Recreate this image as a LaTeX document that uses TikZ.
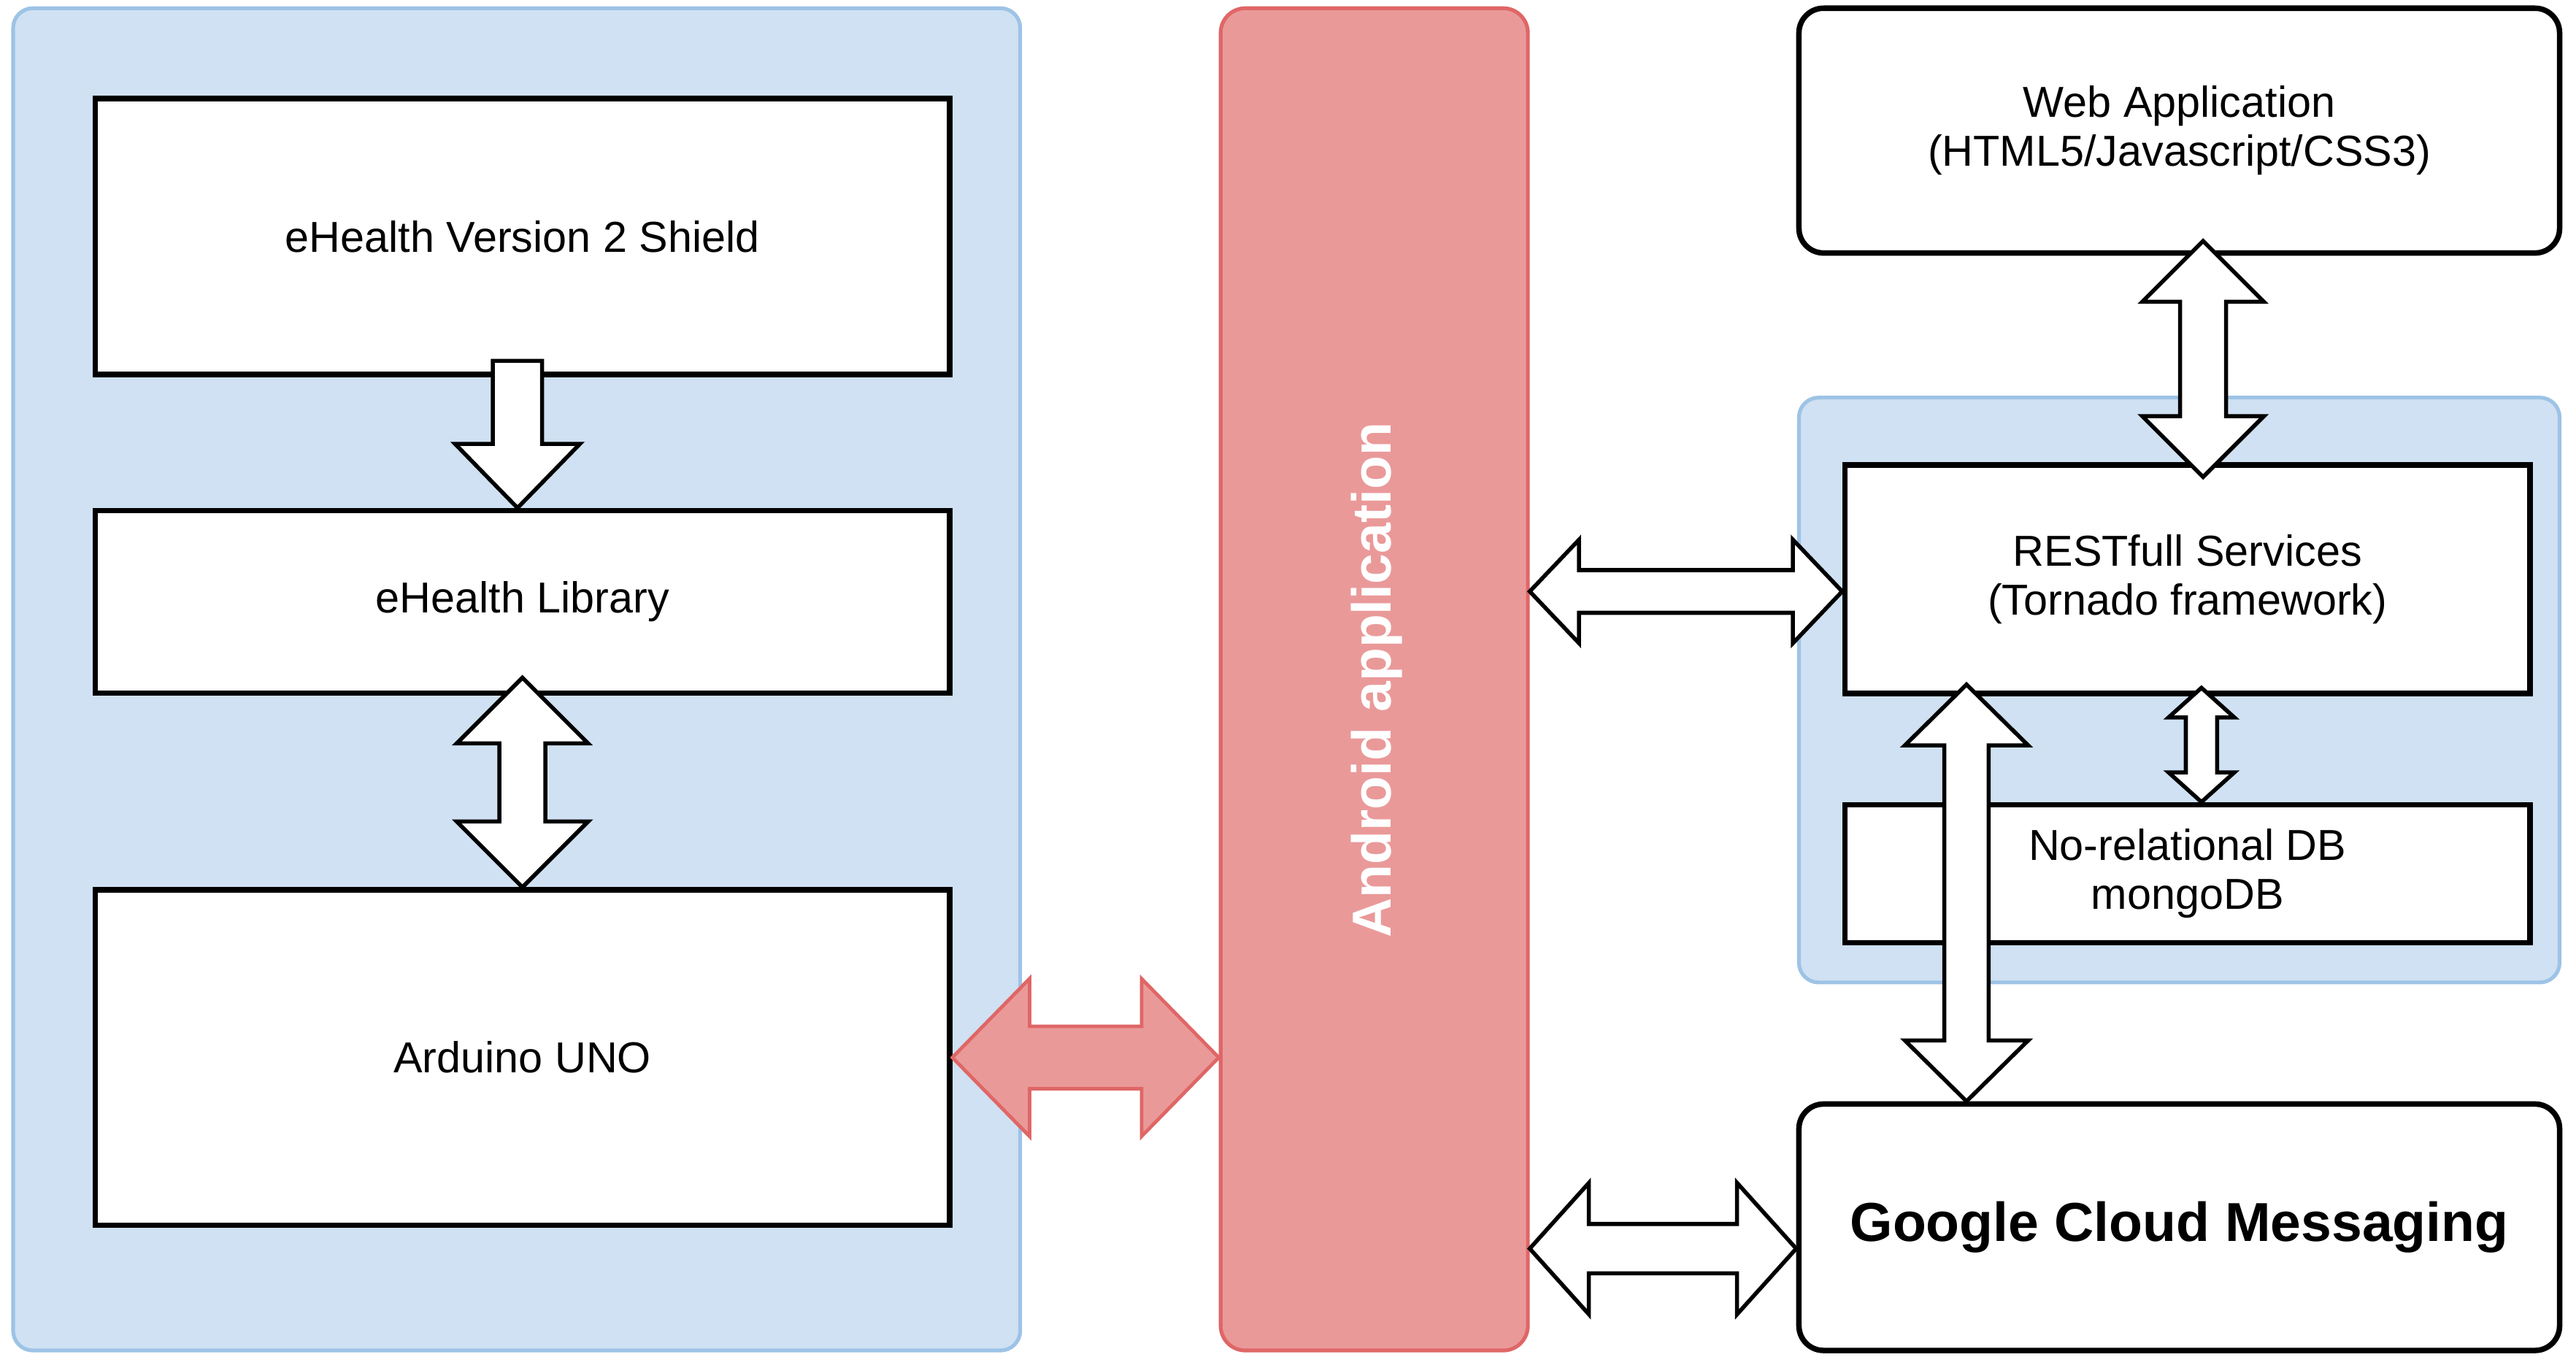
\documentclass[tikz,border=0pt]{standalone}
\usepackage{fontspec}
\setmainfont{Liberation Sans}
\usetikzlibrary{calc,positioning}

\definecolor{boxblue}{RGB}{207,225,242}
\definecolor{lineblue}{RGB}{157,195,230}
\definecolor{appred}{RGB}{234,153,153}
\definecolor{linered}{RGB}{224,102,102}

% block arrows: #1 style, #2 from, #3 to, #4 half shaft, #5 half head, #6 head length
\newcommand{\fatdouble}[6]{
  \path (#2) coordinate (fa) (#3) coordinate (fb);
  \path ($(fa)!#6!(fb)$) coordinate (fp) ($(fb)!#6!(fa)$) coordinate (fq);
  \draw[#1] (fa) -- ($(fp)!#5!90:(fb)$) -- ($(fp)!#4!90:(fb)$) -- ($(fq)!#4!-90:(fa)$) -- ($(fq)!#5!-90:(fa)$) -- (fb)
    -- ($(fq)!#5!90:(fa)$) -- ($(fq)!#4!90:(fa)$) -- ($(fp)!#4!-90:(fb)$) -- ($(fp)!#5!-90:(fb)$) -- cycle;
}
\newcommand{\fatsingle}[6]{
  \path (#2) coordinate (fa) (#3) coordinate (fb);
  \path ($(fb)!#6!(fa)$) coordinate (fq);
  \draw[#1] ($(fa)!#4!90:(fb)$) -- ($(fq)!#4!-90:(fa)$) -- ($(fq)!#5!-90:(fa)$) -- (fb)
    -- ($(fq)!#5!90:(fa)$) -- ($(fq)!#4!90:(fa)$) -- ($(fa)!#4!-90:(fb)$) -- cycle;
}

\begin{document}
\begin{tikzpicture}[x=0.2mm,y=-0.2mm,
	panel/.style={draw=lineblue,fill=boxblue,line width=1.3pt,rounded corners=2.4mm},
	block/.style={draw=black,fill=white,line width=1.9pt,align=center,font=\fontsize{15}{17}\selectfont},
	rblock/.style={block,rounded corners=3mm},
	fat/.style={draw=black,fill=white,line width=1.4pt},
	fatred/.style={draw=linered,fill=appred,line width=1.2pt}]
		\useasboundingbox (0,0) rectangle (1568,825.6);
		% containers
		\node[panel,minimum width=122.6mm,minimum height=163.4mm] (sensors) at (314.5,413.5) {};
		\node[panel,draw=linered,fill=appred,rounded corners=3mm,minimum width=37.4mm,minimum height=163.4mm] (android) at (836.5,413.5) {};
		\node[rotate=90,text=white,font=\fontsize{19}{21}\selectfont\bfseries] (androidtxt) at (838,414) {Android application};
		\node[panel,minimum width=92.6mm,minimum height=71.2mm] (server) at (1326.5,420) {};
		% left column
		\node[block,minimum width=104mm,minimum height=33.6mm] (shield) at (318,144) {eHealth Version 2 Shield};
		\node[block,minimum width=104mm,minimum height=22.2mm,below=15.9mm of shield] (library) {eHealth Library};
		\node[block,minimum width=104mm,minimum height=40.8mm,below=23.3mm of library] (arduino) {Arduino UNO};
		% right column
		\node[rblock,minimum width=92.6mm,minimum height=29.8mm] (webapp) at (1326.5,79.5) {Web Application\\(HTML5/Javascript/CSS3)};
		\node[block,minimum width=83.4mm,minimum height=27.8mm] (rest) at (1331.5,352.5) {RESTfull Services\\(Tornado framework)};
		\node[block,minimum width=83.4mm,minimum height=16.8mm,below=12.9mm of rest] (db) {No-relational DB\\mongoDB};
		\node[rblock,minimum width=92.6mm,minimum height=30mm,font=\fontsize{19}{21}\selectfont\bfseries] (gcm) at (1326.5,747) {Google Cloud Messaging};
		% arrow ends
		\coordinate (restin) at ($(rest.west)+(0,7.5)$);
		\coordinate (gcmin) at ($(gcm.west)+(0,13)$);
		\coordinate (restup) at ($(rest.north)+(9.5,9)$);
		\coordinate (restdown) at ($(rest.south)+(-134.5,-7)$);
		\coordinate (dbup) at ($(rest.south)+(8.5,-5)$);
		% arrows
		\fatsingle{fat}{$(shield.south)+(-3,-10)$}{$(library.north)+(-3,0)$}{3mm}{7.6mm}{7.8mm}
		\fatdouble{fat}{$(library.south)+(0,-11)$}{arduino.north}{2.8mm}{8mm}{8mm}
		\fatdouble{fatred}{arduino.east}{arduino.east -| android.west}{3.8mm}{9.6mm}{9.4mm}
		\fatdouble{fat}{restin -| android.east}{restin}{2.6mm}{6.3mm}{6mm}
		\fatdouble{fat}{gcmin -| android.east}{gcmin}{3mm}{8mm}{7.2mm}
		\fatdouble{fat}{$(webapp.south -| restup)+(0,-9)$}{restup}{2.8mm}{7.4mm}{7.4mm}
		\fatdouble{fat}{restdown}{restdown |- gcm.north}{2.7mm}{7.5mm}{7.4mm}
		\fatdouble{fat}{dbup}{dbup |- db.north}{1.9mm}{4mm}{3.6mm}
\end{tikzpicture}
\end{document}
